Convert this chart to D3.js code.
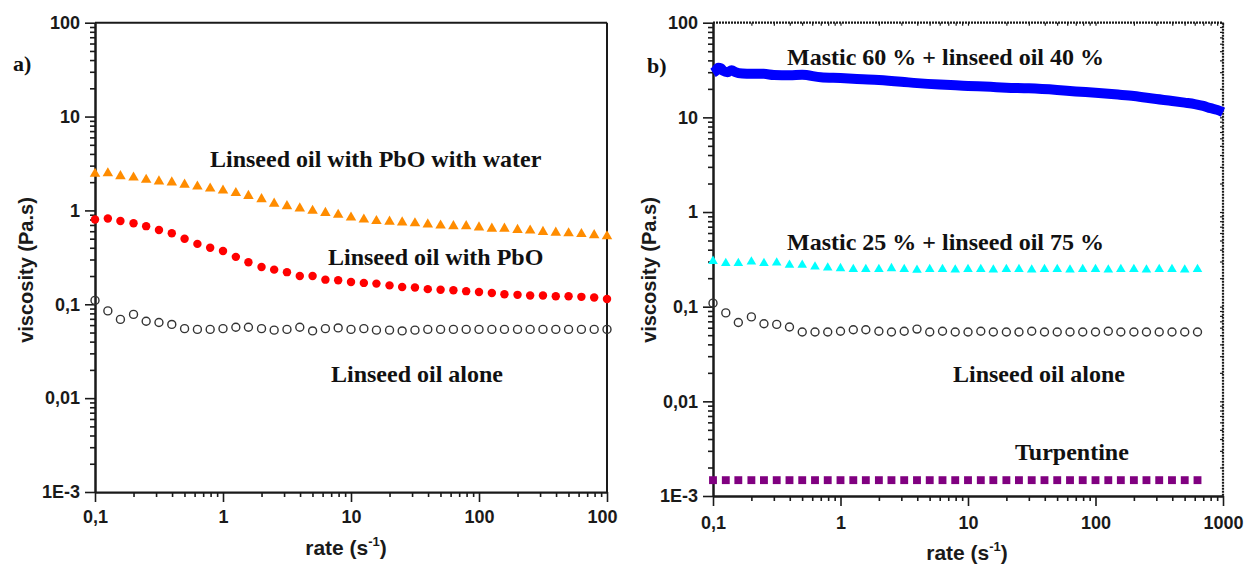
<!DOCTYPE html>
<html><head><meta charset="utf-8">
<script src="https://cdn.jsdelivr.net/npm/d3@7/dist/d3.min.js"></script>
<style>html,body{margin:0;padding:0;background:#fff;} svg{display:block;}</style>
</head><body>
<svg id="c" width="1244" height="572"></svg>
<script>
// ---------------- DATA ----------------
const rateGrid = [0.1, 0.126, 0.158, 0.2, 0.251, 0.316, 0.398, 0.501, 0.631, 0.794,
  1, 1.26, 1.58, 2, 2.51, 3.16, 3.98, 5.01, 6.31, 7.94,
  10, 12.6, 15.8, 20, 25.1, 31.6, 39.8, 50.1, 63.1, 79.4,
  100, 126, 158, 200, 251, 316, 398, 501, 631, 794, 1000];

// panel a)
const pboWater = [2.46, 2.49, 2.32, 2.24, 2.12, 2.04, 1.99, 1.88, 1.80, 1.71,
  1.63, 1.53, 1.43, 1.32, 1.18, 1.11, 1.05, 0.99, 0.94, 0.90,
  0.84, 0.80, 0.77, 0.76, 0.745, 0.73, 0.71, 0.69, 0.68, 0.68,
  0.66, 0.64, 0.64, 0.62, 0.61, 0.59, 0.58, 0.57, 0.56, 0.545, 0.53];
const pbo = [0.80, 0.82, 0.77, 0.73, 0.68, 0.62, 0.57, 0.50, 0.44, 0.40,
  0.37, 0.32, 0.28, 0.25, 0.234, 0.22, 0.20, 0.20, 0.183, 0.18,
  0.173, 0.169, 0.166, 0.159, 0.153, 0.151, 0.145, 0.143, 0.141, 0.138,
  0.135, 0.132, 0.128, 0.126, 0.124, 0.124, 0.122, 0.122, 0.12, 0.118, 0.114];
const linseedA = [0.110, 0.085, 0.069, 0.078, 0.066, 0.064, 0.061, 0.055, 0.054, 0.054,
  0.055, 0.057, 0.057, 0.055, 0.053, 0.054, 0.057, 0.052, 0.055, 0.056,
  0.054, 0.055, 0.053, 0.053, 0.052, 0.053, 0.054, 0.054, 0.054, 0.054,
  0.054, 0.054, 0.054, 0.054, 0.054, 0.054, 0.054, 0.054, 0.054, 0.054, 0.054];

// panel b)
const linseedB = [0.109, 0.086, 0.068, 0.078, 0.066, 0.065, 0.061, 0.054, 0.054, 0.054,
  0.055, 0.057, 0.057, 0.055, 0.054, 0.055, 0.058, 0.054, 0.055, 0.054,
  0.054, 0.055, 0.054, 0.054, 0.054, 0.055, 0.054, 0.054, 0.054, 0.054,
  0.054, 0.055, 0.054, 0.054, 0.054, 0.054, 0.054, 0.054, 0.054];
const mastic25 = [0.303, 0.287, 0.287, 0.298, 0.287, 0.291, 0.275, 0.275, 0.264, 0.258,
  0.254, 0.248, 0.248, 0.248, 0.254, 0.248, 0.244, 0.248, 0.248, 0.246,
  0.248, 0.248, 0.246, 0.248, 0.248, 0.246, 0.248, 0.248, 0.246, 0.248,
  0.248, 0.246, 0.248, 0.248, 0.246, 0.248, 0.248, 0.246, 0.248];
const turpentine = [0.00147, 0.00147, 0.00147, 0.00147, 0.00147, 0.00147, 0.00147, 0.00147, 0.00147, 0.00147,
  0.00147, 0.00147, 0.00147, 0.00147, 0.00147, 0.00147, 0.00147, 0.00147, 0.00147, 0.00147,
  0.00147, 0.00147, 0.00147, 0.00147, 0.00147, 0.00147, 0.00147, 0.00147, 0.00147, 0.00147,
  0.00147, 0.00147, 0.00147, 0.00147, 0.00147, 0.00147, 0.00147, 0.00147, 0.00147];
const mastic60Rate = [0.1, 0.105, 0.11, 0.115, 0.12, 0.13, 0.14, 0.15, 0.17, 0.2,
  0.25, 0.3, 0.4, 0.5, 0.7, 1, 1.5, 2, 3, 4,
  6, 8, 10, 15, 20, 30, 50, 70, 100, 150,
  200, 300, 400, 500, 600, 700, 800, 900, 1000];
const mastic60 = [29.5, 31, 33.5, 33, 31, 30, 31.5, 30, 29, 28.8,
  28.8, 28, 27.8, 28.2, 26.5, 26, 25.3, 24.8, 23.8, 23,
  22.2, 21.8, 21.5, 21, 20.6, 20.3, 19.5, 18.8, 18.2, 17.4,
  16.8, 15.6, 14.9, 14.3, 13.8, 13.2, 12.5, 12, 11.3];

const xDomain = [0.1, 1000];
const yDomain = [0.001, 100];
const yTickVals = [100, 10, 1, 0.1, 0.01, 0.001];
const yTickLabels = ["100", "10", "1", "0,1", "0,01", "1E-3"];
const xTickVals = [0.1, 1, 10, 100, 1000];
const xTickLabels = ["0,1", "1", "10", "100", "1000"];

// ---------------- DRAW ----------------
const svg = d3.select("#c");
const defs = svg.append("defs");
defs.append("clipPath").attr("id", "clipA").append("rect")
  .attr("x", 0).attr("y", 0).attr("width", 618).attr("height", 572);

const SANS = "'Liberation Sans', Arial, sans-serif";
const SERIF = "'Liberation Serif', 'Times New Roman', serif";

const yMinor = [], xMinor = [];
for (let e = -3; e < 2; e++) for (let m = 2; m < 10; m++) yMinor.push(+(m * Math.pow(10, e)).toPrecision(3));
for (let e = -1; e < 3; e++) for (let m = 2; m < 10; m++) xMinor.push(+(m * Math.pow(10, e)).toPrecision(3));

function drawPanel(p) {
  const g = svg.append("g");
  const x = d3.scaleLog().domain(xDomain).range([p.x0, p.x1]);
  const y = d3.scaleLog().domain(yDomain).range([p.y1, p.y0]);

  // frame (top and right)
  const fr = g.append("g").attr("stroke", "#1a1a1a").attr("stroke-width", p.frameW)
    .attr("stroke-dasharray", p.frameDash || null);
  fr.append("line").attr("x1", p.x0).attr("x2", p.x1).attr("y1", p.y0).attr("y2", p.y0);
  fr.append("line").attr("x1", p.x1).attr("x2", p.x1).attr("y1", p.y0).attr("y2", p.y1);

  // minor axes
  const yMin = g.append("g").attr("transform", `translate(${p.x0},0)`)
    .call(d3.axisLeft(y).tickValues(yMinor).tickSize(5).tickFormat("").tickSizeOuter(0));
  const xMin = g.append("g").attr("transform", `translate(0,${p.y1})`)
    .call(d3.axisBottom(x).tickValues(xMinor).tickSize(5).tickFormat("").tickSizeOuter(0));
  // major axes
  const yAx = g.append("g").attr("transform", `translate(${p.x0},0)`)
    .call(d3.axisLeft(y).tickValues(yTickVals).tickSize(10).tickPadding(5).tickSizeOuter(0)
      .tickFormat((d, i) => yTickLabels[i]));
  const xAx = g.append("g").attr("transform", `translate(0,${p.y1})`)
    .call(d3.axisBottom(x).tickValues(xTickVals).tickSize(10).tickPadding(p.xPad).tickSizeOuter(0)
      .tickFormat((d, i) => xTickLabels[i]));
  if (p.clip) xAx.attr("clip-path", `url(#${p.clip})`);
  [yMin, xMin, yAx, xAx].forEach(a => {
    a.selectAll(".domain").attr("stroke", "#1a1a1a").attr("stroke-width", 2);
    a.selectAll(".tick line").attr("stroke", "#1a1a1a").attr("stroke-width", 1.6);
    a.selectAll("text").attr("font-family", SANS).attr("font-size", 18)
      .attr("font-weight", "bold").attr("fill", "#1a1a1a");
  });

  // top/right tick texture (panel b)
  if (p.texture) {
    const t1 = g.append("g").attr("transform", `translate(0,${p.y0})`)
      .call(d3.axisBottom(x).tickValues(xMinor.concat(xTickVals)).tickSize(3).tickFormat("").tickSizeOuter(0));
    const t2 = g.append("g").attr("transform", `translate(${p.x1},0)`)
      .call(d3.axisLeft(y).tickValues(yMinor.concat(yTickVals)).tickSize(3).tickFormat("").tickSizeOuter(0));
    [t1, t2].forEach(a => {
      a.selectAll(".domain").remove();
      a.selectAll(".tick line").attr("stroke", "#1a1a1a").attr("stroke-width", 1.2);
    });
  }

  // series
  p.series.forEach(s => {
    const pts = d3.zip(s.x, s.y);
    if (s.type === "band") {
      g.append("path").datum(pts)
        .attr("d", d3.line().x(d => x(d[0])).y(d => y(d[1])).curve(d3.curveMonotoneX))
        .attr("fill", "none").attr("stroke", s.color).attr("stroke-width", 10)
        .attr("stroke-linejoin", "round");
      return;
    }
    const sym = d3.symbol().type(s.symbol).size(s.size);
    g.append("g").selectAll("path").data(pts).join("path")
      .attr("d", sym)
      .attr("transform", d => `translate(${x(d[0])},${y(d[1])})`)
      .attr("fill", s.open ? "none" : s.color)
      .attr("stroke", s.open ? s.color : "none")
      .attr("stroke-width", s.open ? 1.4 : 0);
  });

  // annotations
  p.labels.forEach(l => {
    g.append("text").attr("x", l.x).attr("y", l.y).text(l.t)
      .attr("font-family", SERIF).attr("font-weight", "bold")
      .attr("font-size", l.fs || 24).attr("fill", "#111");
  });

  // axis titles
  g.append("text").attr("transform", `translate(${p.yTitleX},${p.yTitleY}) rotate(-90)`)
    .attr("text-anchor", "middle").attr("font-family", SANS).attr("font-weight", "bold")
    .attr("font-size", 20).attr("fill", "#1a1a1a").text("viscosity (Pa.s)");
  const xt = g.append("text").attr("x", p.xTitleX).attr("y", p.xTitleY)
    .attr("text-anchor", "middle").attr("font-family", SANS).attr("font-weight", "bold")
    .attr("font-size", 21).attr("fill", "#1a1a1a");
  xt.append("tspan").text("rate (s");
  xt.append("tspan").attr("font-size", 13).attr("dy", -9).text("-1");
  xt.append("tspan").attr("dy", 9).text(")");
}

drawPanel({
  x0: 95, x1: 607, y0: 22.7, y1: 492, frameW: 2, xPad: 8, clip: "clipA",
  yTitleX: 33, yTitleY: 270, xTitleX: 346, xTitleY: 555,
  series: [
    { x: rateGrid, y: pboWater, symbol: d3.symbolTriangle, size: 48, color: "#ff8c00" },
    { x: rateGrid, y: pbo, symbol: d3.symbolCircle, size: 56, color: "#ff0000" },
    { x: rateGrid, y: linseedA, symbol: d3.symbolCircle, size: 50, color: "#333333", open: true }
  ],
  labels: [
    { x: 13, y: 71, t: "a)", fs: 22 },
    { x: 210, y: 167, t: "Linseed oil with PbO with water" },
    { x: 328, y: 265, t: "Linseed oil with PbO" },
    { x: 331, y: 382, t: "Linseed oil alone" }
  ]
});

drawPanel({
  x0: 713, x1: 1223, y0: 22.7, y1: 496, frameW: 2.2, frameDash: "2,1", xPad: 10, texture: true,
  yTitleX: 656, yTitleY: 270, xTitleX: 967, xTitleY: 560,
  series: [
    { x: mastic60Rate, y: mastic60, type: "band", color: "#0000ff" },
    { x: rateGrid.slice(0, 39), y: mastic25, symbol: d3.symbolTriangle, size: 40, color: "#00ffff" },
    { x: rateGrid.slice(0, 39), y: linseedB, symbol: d3.symbolCircle, size: 50, color: "#333333", open: true },
    { x: rateGrid.slice(0, 39), y: turpentine, symbol: d3.symbolSquare, size: 62, color: "#800080" }
  ],
  labels: [
    { x: 647, y: 73, t: "b)", fs: 22 },
    { x: 787, y: 65, t: "Mastic 60 % + linseed oil 40 %" },
    { x: 787, y: 250, t: "Mastic 25 % + linseed oil 75 %" },
    { x: 953, y: 382, t: "Linseed oil alone" },
    { x: 1015, y: 460, t: "Turpentine" }
  ]
});
</script>
</body></html>
